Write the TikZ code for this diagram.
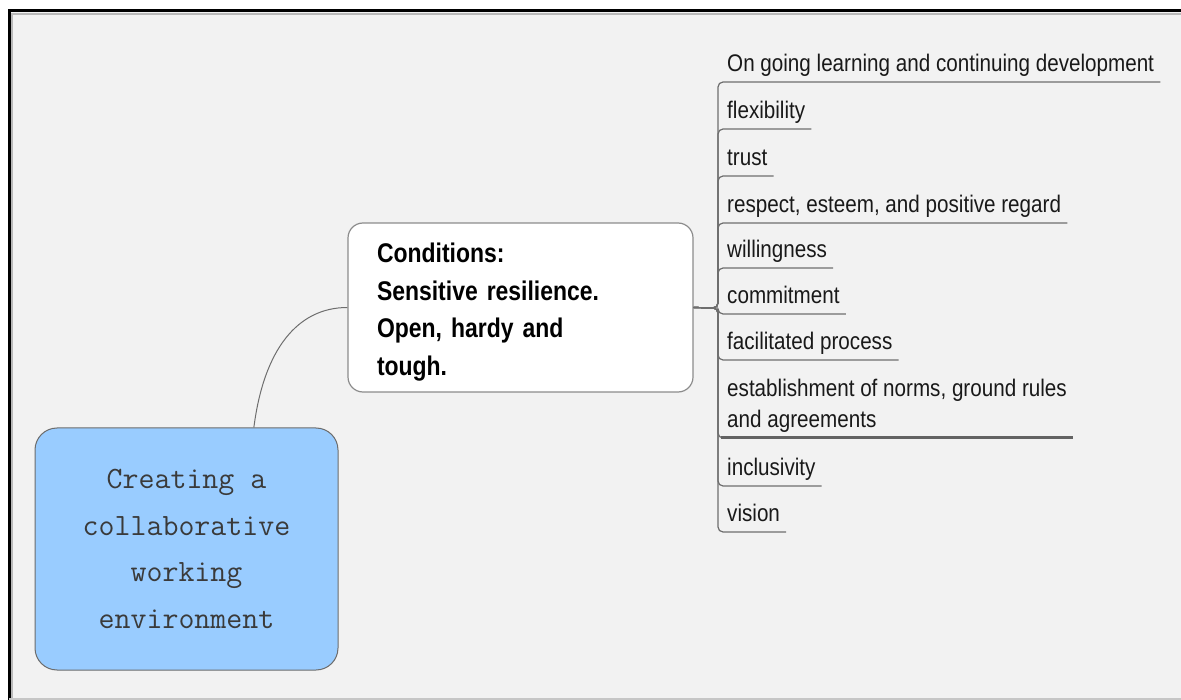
\documentclass[tikz,border=0pt]{standalone}
\usepackage{fontspec}
\setmainfont{Liberation Sans}
\newfontfamily\itemfont[FakeStretch=0.86]{Liberation Sans}
\newfontfamily\condfont[FakeStretch=0.85]{Liberation Sans}
\definecolor{bgc}{HTML}{F2F2F2}
\definecolor{rootblue}{HTML}{99CCFF}
\definecolor{edgegray}{HTML}{6E6E6E}
\definecolor{rootink}{HTML}{3A3A3A}
\begin{document}
\begin{tikzpicture}[x=1pt,y=-1pt,
  rootbox/.style={draw=gray!85!black, line width=1pt, fill=rootblue,
    rounded corners=22pt, minimum width=303pt, minimum height=242pt,
    align=center, text=rootink,
    font=\ttfamily\fontsize{31}{46.5}\selectfont},
  condbox/.style={draw=gray!90, line width=1.2pt, fill=white,
    rounded corners=15pt, minimum width=345pt, minimum height=169pt,
    inner xsep=29pt, text width=287pt, text height=29pt, align=left,
    font=\condfont\bfseries\fontsize{27}{37.7}\selectfont},
  item/.style={anchor=south west, inner xsep=6pt, inner ysep=0pt,
    text depth=10pt, align=left, text=black!90,
    font=\itemfont\fontsize{24}{31}\selectfont},
  edge/.style={draw=edgegray, line width=1.2pt, rounded corners=5pt},
  link/.style={draw=edgegray, line width=1pt}]
\useasboundingbox (0,0) rectangle (1181,700);
% page and frame
\fill[white] (0,0) rectangle (1181,700);
\fill[bgc] (9,11) rectangle (1181,698);
\draw[gray!55, line width=2pt] (12,700) -- (12,14) -- (1181,14);
\draw[black, line width=3pt] (9,700) -- (9,11) -- (1181,11);
\draw[gray!45, line width=2pt] (9,699) -- (1181,699);

% central topics
\node[rootbox] (root) at (186.5,549)
  {Creating a\\collaborative\\working\\environment};
\node[condbox] (cond) at (520.5,307.5)
  {Conditions:\\Sensitive resilience.\\Open, hardy and\\tough.};
\draw[link] (root.61.6) .. controls +(10,-78) and +(-50,0) .. (cond.west);

% branch hub
\coordinate (hub) at (718,308);

% leaf items
\node[item] (i1) at (721,82)  {On going learning and continuing development};
\node[item] (i2) at (721,129) {flexibility};
\node[item] (i3) at (721,176) {trust};
\node[item] (i4) at (721,223) {respect, esteem, and positive regard};
\node[item] (i5) at (721,268) {willingness};
\node[item] (i6) at (721,314) {commitment};
\node[item] (i7) at (721,360) {facilitated process};
\node[item] (i8) at (721,438) {establishment of norms, ground rules\\and agreements};
\node[item] (i9) at (721,486) {inclusivity};
\node[item] (i10) at (721,532) {vision};

\foreach \n in {i1,i2,i3,i4,i5,i6,i7,i8,i9,i10}
  \draw[edge] (cond.east) -- (hub) |- (\n.south east);
\draw[draw=edgegray!90!black, line width=3pt] (i8.south west) -- (i8.south east);
\end{tikzpicture}
\end{document}
